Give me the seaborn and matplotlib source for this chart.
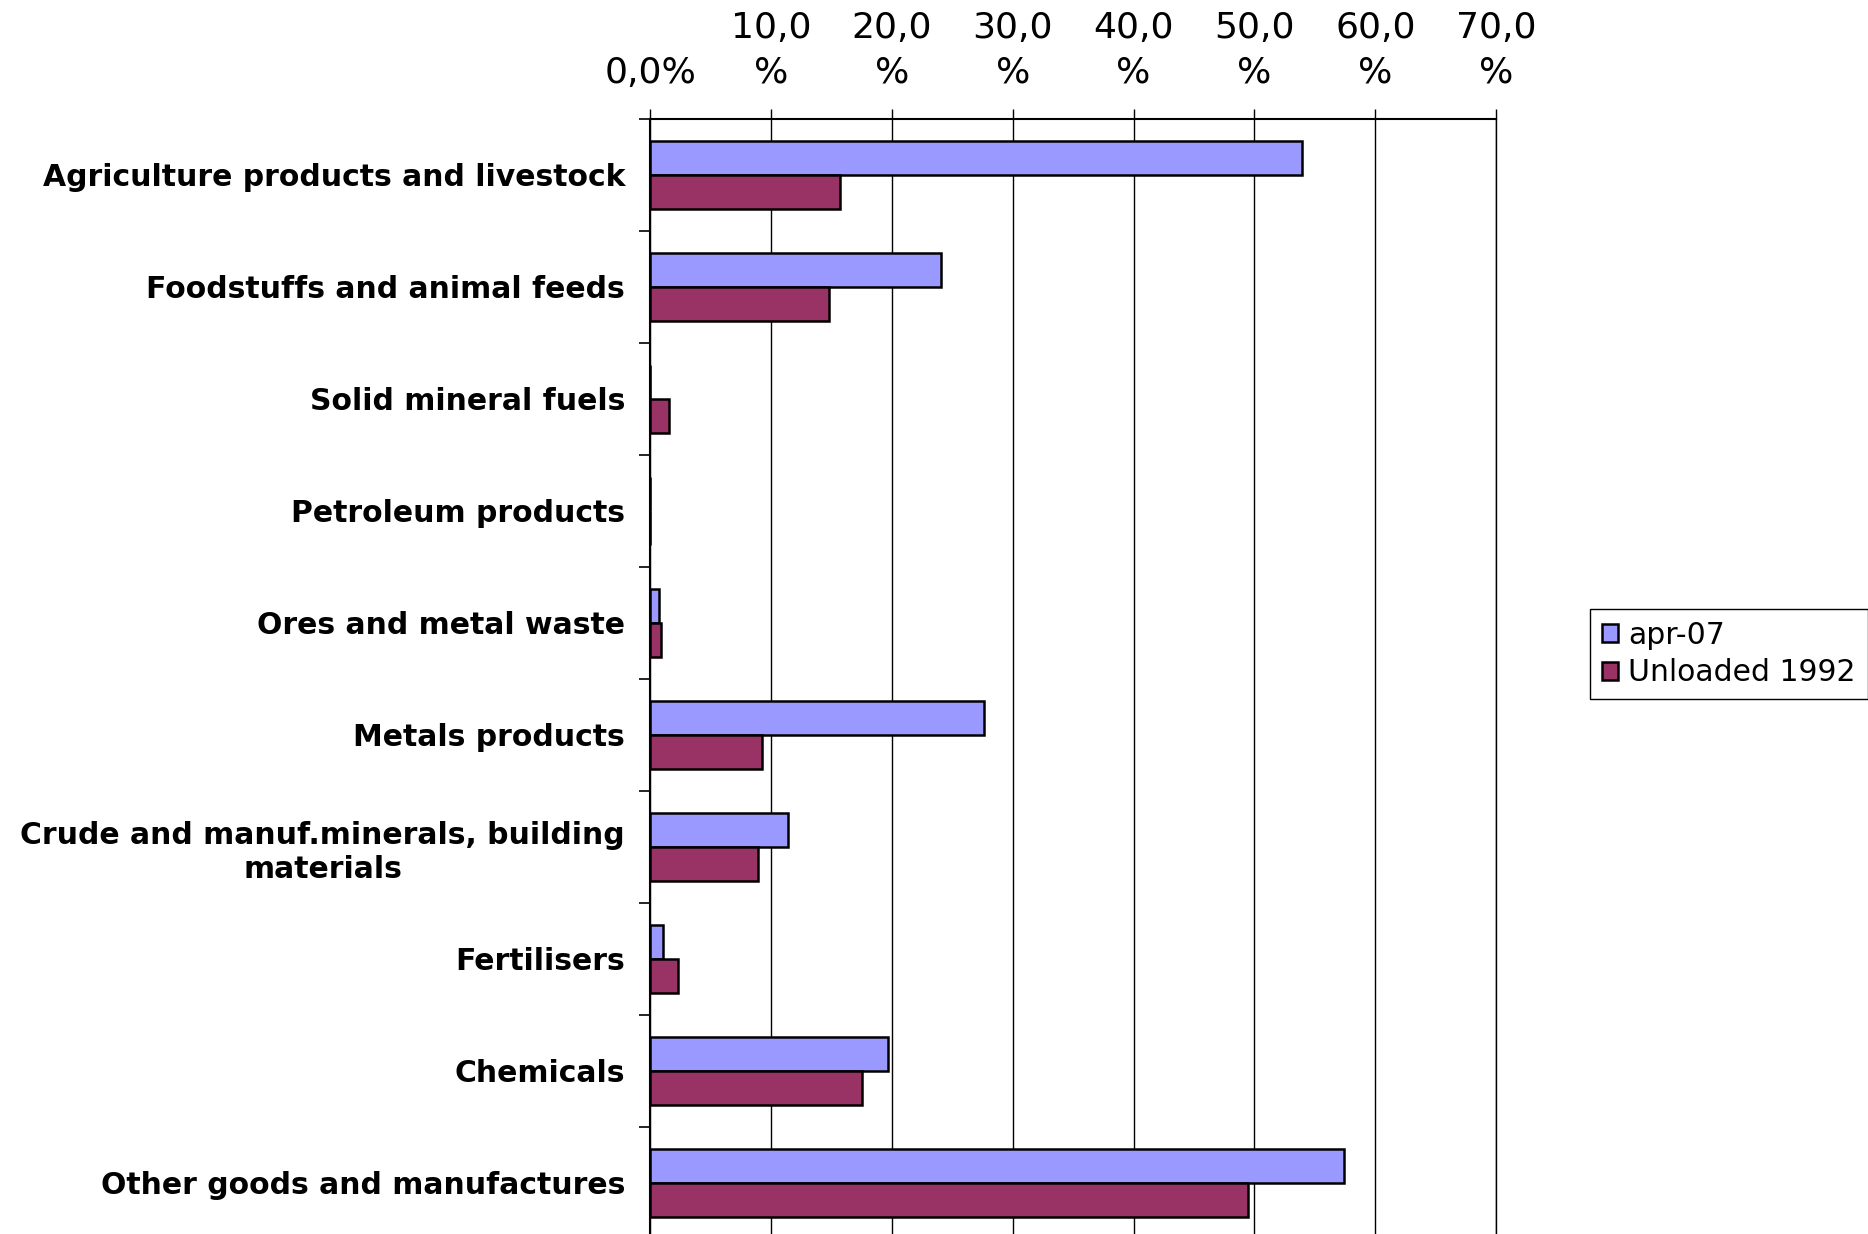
import pandas as pd
import matplotlib.pyplot as plt
import seaborn as sns
import numpy as np

# values (percent)
categories = ["Agriculture products and livestock", "Foodstuffs and animal feeds",
              "Solid mineral fuels", "Petroleum products", "Ores and metal waste",
              "Metals products", "Crude and manuf.minerals, building\nmaterials",
              "Fertilisers", "Chemicals", "Other goods and manufactures"]
apr07 = [53.9, 24.1, 0.0, 0.0, 0.7, 27.6, 11.4, 1.1, 19.7, 57.4]
unloaded_1992 = [15.7, 14.8, 1.6, 0.0, 0.9, 9.3, 8.9, 2.3, 17.5, 49.5]
series = ["apr-07", "Unloaded 1992"]
xticks = [0, 10, 20, 30, 40, 50, 60, 70]
xticklabels = ["0,0%", "10,0\n%", "20,0\n%", "30,0\n%", "40,0\n%", "50,0\n%", "60,0\n%", "70,0\n%"]

data = pd.DataFrame({
    "category": categories * 2,
    "value": apr07 + unloaded_1992,
    "series": [series[0]] * len(categories) + [series[1]] * len(categories),
})

sns.set_style("white")
plt.rcParams['font.family'] = ['DejaVu Sans']
plt.rcParams['text.color'] = 'black'
plt.rcParams['xtick.color'] = 'black'
plt.rcParams['ytick.color'] = 'black'

fig = plt.figure(figsize=(18.68, 12.34), dpi=100)
ax = fig.add_axes([0.348, -0.004, 0.453, 0.9076])

sns.barplot(data=data, x="value", y="category", hue="series", orient="h",
            palette=["#9999FF", "#993366"], saturation=1, width=0.6,
            edgecolor="black", linewidth=1.8, errorbar=None, ax=ax)

ax.set_xlim(0, 70)
ax.set_ylim(len(categories) - 0.5, -0.5)
ax.set_xlabel("")
ax.set_ylabel("")

# x axis on top with wrapped labels
ax.xaxis.tick_top()
ax.set_xticks(xticks)
ax.set_xticklabels(xticklabels, fontsize=26, multialignment="center", linespacing=1.4)
ax.tick_params(axis="x", length=7, width=1, pad=14, colors="black")
ax.grid(axis="x", color="black", linewidth=1)
ax.set_axisbelow(True)

# category labels, tick marks between categories
ax.set_yticks(range(len(categories)))
ax.set_yticklabels(categories, fontsize=21.5, fontweight="bold", multialignment="center")
ax.tick_params(axis="y", which="major", length=0, pad=18)
ax.set_yticks(np.arange(-0.5, len(categories), 1), minor=True)
ax.tick_params(axis="y", which="minor", length=8, width=1.2, color="black", left=True)

ax.spines["bottom"].set_visible(False)
ax.spines["right"].set_color("black")
ax.spines["right"].set_linewidth(1)
ax.spines["left"].set_color("black")
ax.spines["left"].set_linewidth(1.5)
ax.spines["top"].set_color("black")
ax.spines["top"].set_linewidth(1.5)

ax.legend_.remove()
handles, labels = ax.get_legend_handles_labels()
leg = fig.legend(handles, labels, loc="center left", bbox_to_anchor=(0.843, 0.47),
                 bbox_transform=fig.transFigure, fontsize=21.5, frameon=True,
                 fancybox=False, framealpha=1, edgecolor="black",
                 handlelength=0.55, handleheight=0.55, handletextpad=0.35,
                 borderpad=0.4, labelspacing=0.3)

fig.savefig("out.png", dpi=100)
